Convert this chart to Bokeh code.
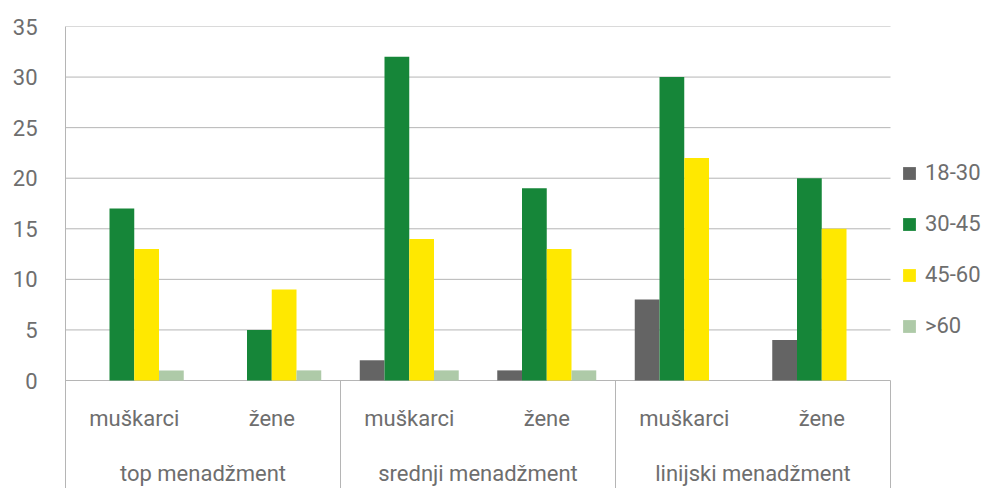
from bokeh.plotting import figure
from bokeh.models import Range1d, FixedTicker, Legend, LegendItem, ColumnDataSource
from bokeh.core.properties import value
from bokeh.embed import file_html
from bokeh.resources import INLINE

# ---- data ----
groups = ["top menadžment", "srednji menadžment", "linijski menadžment"]
subgroups = ["muškarci", "žene"]
series = ["18-30", "30-45", "45-60", ">60"]
v_18_30 = [0, 0, 2, 1, 8, 4]
v_30_45 = [17, 5, 32, 19, 30, 20]
v_45_60 = [13, 9, 14, 13, 22, 15]
v_60 = [1, 1, 1, 1, 0, 0]
y_ticks = [0, 5, 10, 15, 20, 25, 30, 35]

# ---- styles ----
colors = ["#646464", "#168639", "#FFE800", "#AECAA8"]
FONT = value("Roboto")
TXT = "#6e6e6e"
GRID = "#b5b5b5"
FS = "22px"

W, H = 985, 488
LEFT, TOP = 65, 26
n_sub = len(groups) * len(subgroups)
px_per_unit = (890 - 65) / n_sub
frame_w = W - LEFT
x_end = frame_w / px_per_unit
y_px = (380 - TOP) / 35.0
y_start = -(H - 380) / y_px

p = figure(width=W, height=H, output_backend="svg", toolbar_location=None,
           x_range=Range1d(0, x_end), y_range=Range1d(y_start, 35),
           x_axis_location=None, min_border_left=LEFT, min_border_right=0,
           min_border_top=TOP, min_border_bottom=0)
p.outline_line_color = None
p.xgrid.visible = False
p.ygrid.visible = False

ax = p.yaxis[0]
ax.ticker = FixedTicker(ticks=y_ticks)
ax.major_tick_line_color = None
ax.minor_tick_line_color = None
ax.major_tick_out = 0
ax.major_tick_in = 0
ax.axis_line_color = GRID
ax.major_label_text_font = "Roboto"
ax.major_label_text_font_size = FS
ax.major_label_text_color = TXT
ax.major_label_standoff = 28

# gridlines (only across the category area)
p.segment(x0=[0] * len(y_ticks), x1=[n_sub] * len(y_ticks), y0=y_ticks, y1=y_ticks,
          line_color=GRID, line_width=1)

# group separators below the baseline
bounds = [g * len(subgroups) for g in range(len(groups) + 1)]
p.segment(x0=bounds, x1=bounds, y0=[0] * len(bounds), y1=[y_start] * len(bounds),
          line_color=GRID, line_width=1)

# bars
centers = [i + 0.5 for i in range(n_sub)]
offsets = [-0.27, -0.09, 0.09, 0.27]
vals = [v_18_30, v_30_45, v_45_60, v_60]
items = []
for s, v, c, o in zip(series, vals, colors, offsets):
    src = ColumnDataSource(dict(x=[cx + o for cx in centers], top=v))
    r = p.vbar(x="x", top="top", bottom=0, width=0.18, source=src,
               fill_color=c, line_color=None)
    items.append(LegendItem(label=s, renderers=[r]))

# category labels
sub_labels = [s for g in groups for s in subgroups]
p.text(x=centers, y=[-3.76] * n_sub, text=sub_labels, text_font=FONT,
       text_font_size=FS, text_color=TXT, text_align="center", text_baseline="middle")
gcenters = [g * len(subgroups) + len(subgroups) / 2 for g in range(len(groups))]
p.text(x=gcenters, y=[-9.2] * len(groups), text=groups, text_font=FONT,
       text_font_size=FS, text_color=TXT, text_align="center", text_baseline="middle")

legend = Legend(items=items, location=(836, 150), glyph_width=16, glyph_height=16,
                label_height=20, spacing=26, padding=0, margin=0,
                border_line_color=None, background_fill_alpha=0,
                label_text_font="Roboto", label_text_font_size=FS,
                label_text_color=TXT, label_standoff=8)
p.add_layout(legend)

open("out.html", "w").write(file_html(p, INLINE))
